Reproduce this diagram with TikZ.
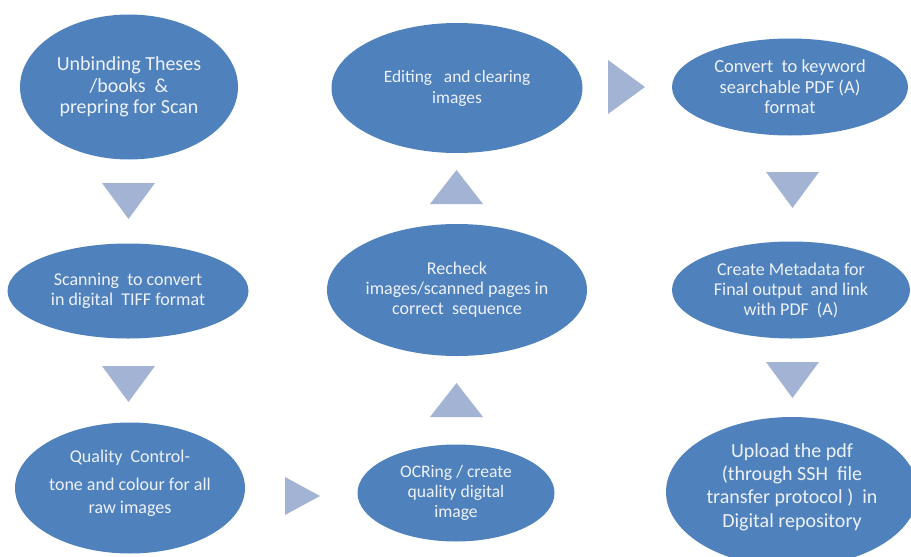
\documentclass[tikz,border=0pt]{standalone}
\usepackage{fontspec}
\setmainfont{Carlito}
\usetikzlibrary{shapes.geometric,calc}
\definecolor{ellblue}{HTML}{4F81BD}
\definecolor{triblue}{HTML}{A2B3D3}
\definecolor{txt}{HTML}{EEF2F8}
\tikzset{
  stage/.style={ellipse, fill=ellblue, inner sep=0pt, text=txt, align=center},
  stagetext/.style={text=txt, align=center, inner sep=0pt},
  tri/.style={fill=triblue},
}
\begin{document}
\begin{tikzpicture}[x=1pt,y=-1pt]
\useasboundingbox (0,0) rectangle (911,557);
\clip (0,0) rectangle (911,557);
% ellipses
\node[stage, minimum width=218pt, minimum height=145pt, font=\fontsize{20}{21.5}\selectfont] (s1) at (129,87) {Unbinding Theses\\/books~ \&\\prepring for Scan};
\node[stage, minimum width=241pt, minimum height=95pt, font=\fontsize{18}{20}\selectfont] (s2) at (128,291) {Scanning~ to convert\\in digital~ TIFF format};
\node[stage, minimum width=230pt, minimum height=131pt] (s3) at (130,488) {};
\node[stagetext, font=\fontsize{18}{23}\selectfont] (s3t) at ($(s3)+(0,-5)$) {Quality~ Control-\\[5pt]tone and colour for all\\raw images};
\node[stage, minimum width=197pt, minimum height=97pt, font=\fontsize{17.6}{20}\selectfont] (s4) at (456,493) {OCRing / create\\quality digital\\image};
\node[stage, minimum width=260pt, minimum height=132pt, font=\fontsize{18}{20}\selectfont] (s5) at (457,290) {Recheck\\images/scanned pages in\\correct~ sequence};
\node[stage, minimum width=251pt, minimum height=130pt, font=\fontsize{17.4}{21}\selectfont] (s6) at (457,88) {Editing~~ and clearing\\images};
\node[stage, minimum width=236pt, minimum height=97pt, font=\fontsize{18.5}{20.5}\selectfont] (s7) at (790,87) {Convert~ to keyword\\searchable PDF (A)\\format};
\node[stage, minimum width=238pt, minimum height=97pt, font=\fontsize{18}{20}\selectfont] (s8) at (791,290) {Create Metadata for\\Final output~ and link\\with PDF~ (A)};
\node[stage, minimum width=252pt, minimum height=150pt] (s9) at (792,492) {};
\node[stagetext, font=\fontsize{20}{23.3}\selectfont] (s9t) at ($(s9)+(0,-5)$) {Upload the pdf\\(through SSH~ file\\transfer protocol )~ in\\Digital repository};
% triangle arrows
\coordinate (t1) at (128.5,201);
\coordinate (t2) at (128.5,384);
\coordinate (t3) at (456.5,187);
\coordinate (t4) at (456.5,400);
\coordinate (t5) at (792.5,190);
\coordinate (t6) at (792.5,380);
\coordinate (t7) at (302,496);
\coordinate (t8) at (626,87);
\fill[tri] (t1) ++(-26.5,-18) -- ++(53,0) -- ++(-26.5,36) -- cycle;
\fill[tri] (t2) ++(-26.5,-18) -- ++(53,0) -- ++(-26.5,36) -- cycle;
\fill[tri] (t3) ++(-26.5,17) -- ++(53,0) -- ++(-26.5,-34) -- cycle;
\fill[tri] (t4) ++(-26.5,17) -- ++(53,0) -- ++(-26.5,-34) -- cycle;
\fill[tri] (t5) ++(-26.5,-18) -- ++(53,0) -- ++(-26.5,36) -- cycle;
\fill[tri] (t6) ++(-26.5,-18) -- ++(53,0) -- ++(-26.5,36) -- cycle;
\fill[tri] (t7) ++(-17,-19) -- ++(0,38) -- ++(35,-19) -- cycle;
\fill[tri] (t8) ++(-18,-27) -- ++(0,54) -- ++(37,-27) -- cycle;
\end{tikzpicture}
\end{document}
